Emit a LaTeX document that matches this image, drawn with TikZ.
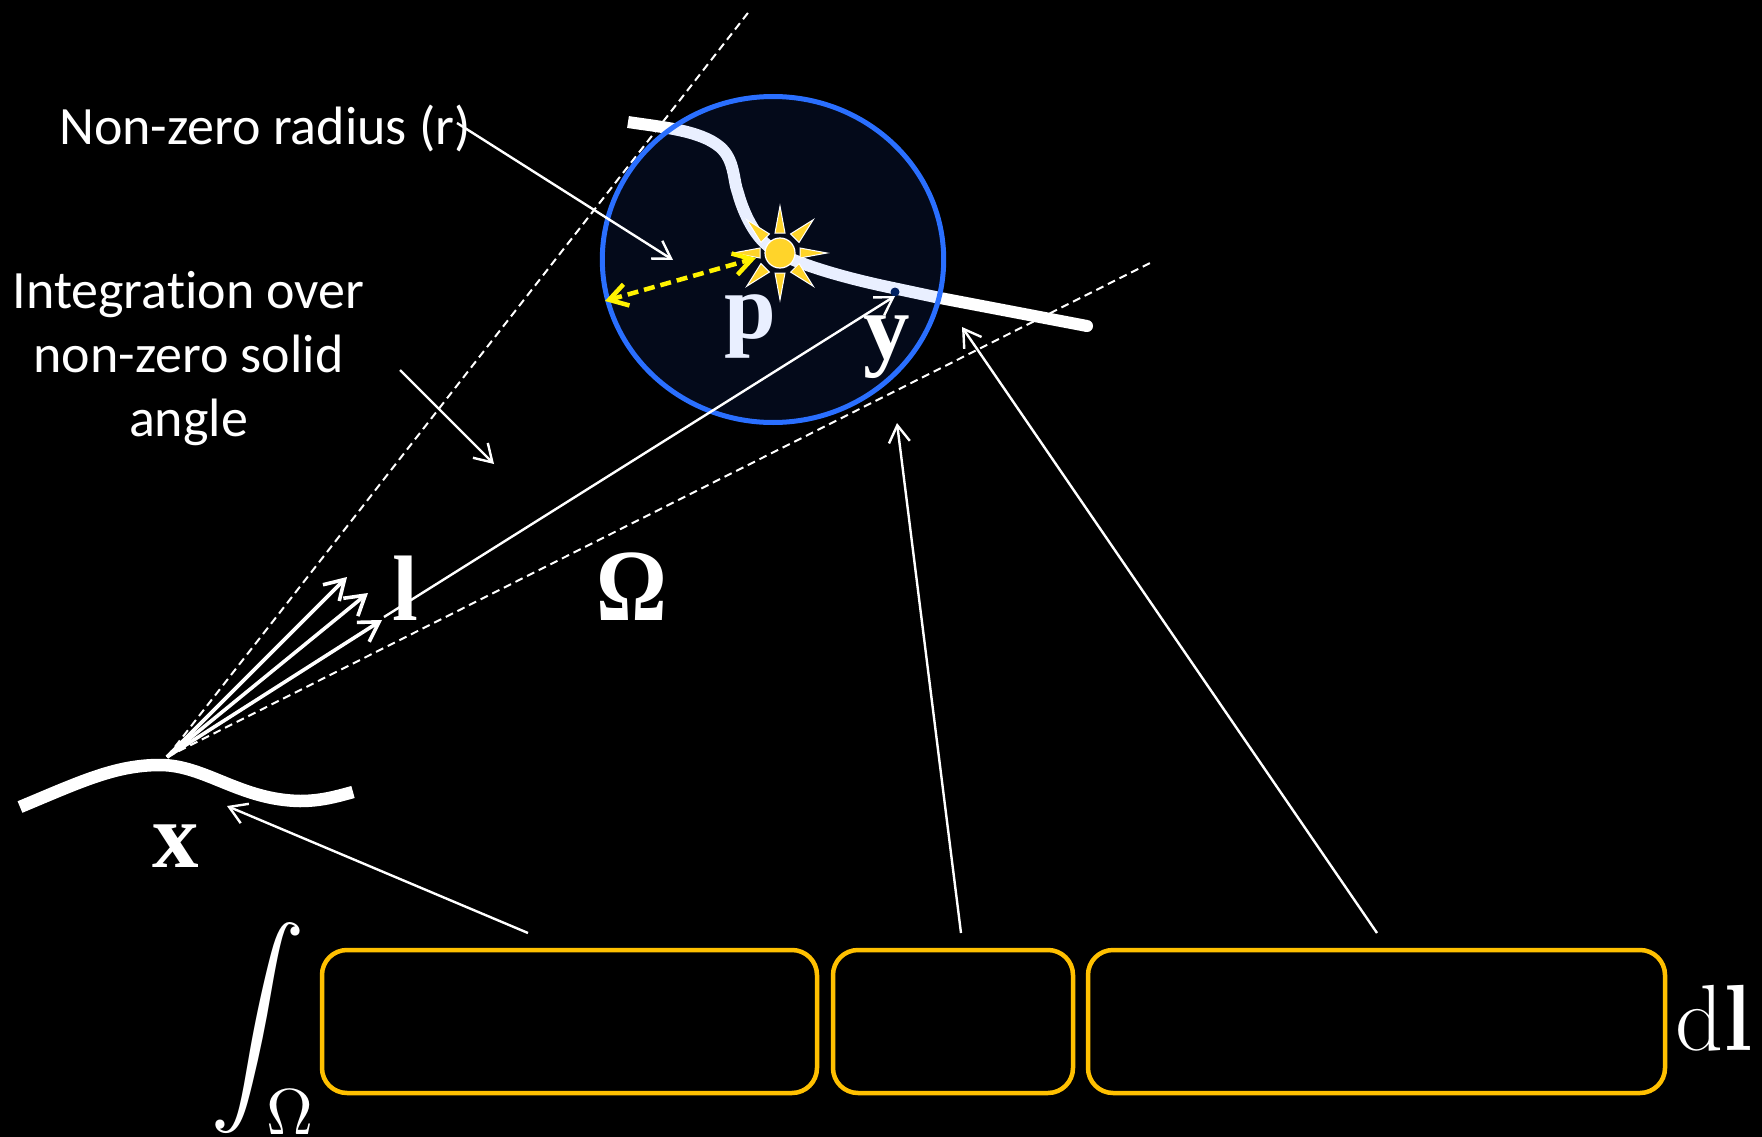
\documentclass[tikz,border=0pt]{standalone}
\usepackage[no-math]{fontspec}
\usepackage{graphicx}
\usepackage{amsmath}
\usetikzlibrary{arrows.meta}
\newfontfamily\lblfont[Ligatures=NoCommon]{Carlito}
\newfontfamily\symfont[BoldFont={Liberation Serif Bold}]{Liberation Serif}
\definecolor{boxorange}{HTML}{FFC000}
\definecolor{ringblue}{HTML}{2A6FFF}
\definecolor{sunyellow}{HTML}{FFD42A}
\definecolor{dotnavy}{HTML}{002060}
\definecolor{veil}{RGB}{40,100,255}
\tikzset{
  pointer/.style={draw=white,line width=2.4pt,-{Straight Barb[length=17pt,width=21pt,line width=2.4pt]}},
  ray/.style={draw=white,line width=3.6pt,-{Straight Barb[length=19pt,width=23pt,line width=3.6pt]}},
  guide/.style={draw=white,line width=2pt,dash pattern=on 8pt off 5pt},
  surface/.style={draw=white,line width=12pt},
  radiusarrow/.style={draw=yellow,line width=4.5pt,dash pattern=on 11pt off 6pt,{Straight Barb[length=18pt,width=22pt,line width=4.5pt]}-{Straight Barb[length=18pt,width=22pt,line width=4.5pt]}},
  termbox/.style={draw=boxorange,line width=4.5pt,rounded corners=25pt,inner sep=0pt,outer sep=0pt,minimum height=143pt},
  label/.style={text=white,font=\lblfont\fontsize{54}{63.5}\selectfont,inner sep=0pt,anchor=base},
  bigsym/.style={text=white,font=\symfont\bfseries\fontsize{93}{93}\selectfont,inner sep=0pt,anchor=base},
  mathsym/.style={text=white,inner sep=0pt,anchor=base},
  rayspike/.style={fill=sunyellow,draw=white,line width=1pt,line join=miter},
}
\begin{document}
\begin{tikzpicture}[x=1pt,y=-1pt]
\useasboundingbox (0,0) rectangle (1762,1137);
\fill[black] (0,0) rectangle (1762,1137);
% points
\coordinate (eye) at (167,757);
\coordinate (guideA) at (751,9);
\coordinate (guideB) at (1152,262);
\coordinate (rayA) at (347,577);
\coordinate (rayB) at (368,593);
\coordinate (rayC) at (382,620);
\coordinate (longS) at (384,617);
\coordinate (longE) at (895,296);
\coordinate (radS) at (457,123);
\coordinate (radE) at (673,260);
\coordinate (angS) at (400,370);
\coordinate (angE) at (494,464);
\coordinate (b1S) at (528,933);
\coordinate (b1E) at (227,806);
\coordinate (b2S) at (961,933);
\coordinate (b2E) at (897,423);
\coordinate (b3S) at (1377,933);
\coordinate (b3E) at (962,327);
\coordinate (yA) at (605,301);
\coordinate (yB) at (756,258);
% guides
\draw[guide] (eye) -- (guideA);
\draw[guide] (eye) -- (guideB);
% surfaces
\draw[surface] (628,122) .. controls (660,127) and (700,130) .. (720,147)
  .. controls (735,160) and (733,180) .. (738,193)
  .. controls (744,215) and (755,235) .. (767,245)
  .. controls (780,258) and (830,275) .. (893,288)
  -- (940,298) -- (1087,326);
\fill[white] (1087,326) circle (6);
\draw[surface,line width=12.5pt] (20,807) .. controls (80,782) and (115,765) .. (160,765)
  .. controls (205,765) and (240,800) .. (300,801)
  .. controls (320,801) and (335,797) .. (353,792);
\node[bigsym] (pLabel) at (750,338) {p};
% sphere
\fill[veil,fill opacity=.1] (773,259.5) ellipse [x radius=170.7,y radius=163];
\draw[ringblue,line width=5pt] (773,259.5) ellipse [x radius=170.7,y radius=163];
% sun
\begin{scope}[shift={(780,253)}]
  \foreach \a in {0,90,180,270}{
    \draw[rayspike,rotate=\a] (20,-5) -- (47,0) -- (20,5) -- cycle;}
  \foreach \a in {45,135,225,315}{
    \draw[rayspike,rotate=\a] (21,-6) -- (47,0) -- (21,6) -- cycle;}
  \draw[fill=sunyellow,draw=white,line width=1.2pt] (0,0) circle (15);
\end{scope}
\fill[dotnavy] (895,292) circle (4.5);
% arrows
\draw[radiusarrow] (yA) -- (yB);
\draw[pointer] (radS) -- (radE);
\draw[pointer] (angS) -- (angE);
\draw[ray] (eye) -- (rayA);
\draw[ray] (eye) -- (rayB);
\draw[ray] (eye) -- (rayC);
\draw[pointer] (longS) -- (longE);
\draw[pointer] (b1S) -- (b1E);
\draw[pointer] (b2S) -- (b2E);
\draw[pointer] (b3S) -- (b3E);
% labels
\node[bigsym] (yLabel) at (887,358) {y};
\node[bigsym] (xLabel) at (176,867) {x};
\node[bigsym] (lLabel) at (405,620) {l};
\node[bigsym] (omegaLabel) at (632,620) {\scalebox{.95}[1.1]{Ω}};
\node[label] (radiusLabel) at (265,144.5) {Non-zero radius (r)};
\node[label] (intLabelA) at (188.5,308) {Integration over};
\node[label] (intLabelB) at (188.5,372) {non-zero solid};
\node[label] (intLabelC) at (188.5,436) {angle};
% equation
\node[mathsym] (intSign) at (257.5,1052) {\scalebox{9.5}{$\displaystyle\int$}};
\node[mathsym] (intLimit) at (290,1134) {\scalebox{6.5}{$\Omega$}};
\node[termbox,minimum width=495pt] (termA) at (569.5,1021.5) {};
\node[termbox,minimum width=240pt] (termB) at (953,1021.5) {};
\node[termbox,minimum width=577pt] (termC) at (1376.5,1021.5) {};
\node[mathsym] (dlLabel) at (1714,1050) {\fontsize{94}{94}\selectfont d\bfseries l};
\end{tikzpicture}
\end{document}
